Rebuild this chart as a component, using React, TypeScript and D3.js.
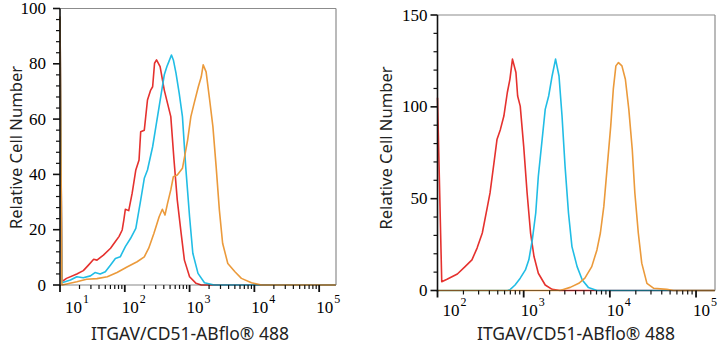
import React from "react";
import * as d3 from "d3";

// intensity, relative cell number
const leftRed: [number, number][] = [
  [10, 97], [10.7, 1.2], [12.6, 2.4], [18.2, 4], [22.9, 5.2], [27.5, 7.2], [33.1, 9.3], [37.2, 9],
  [46.8, 10.8], [60.3, 13.3], [71.6, 15.7], [81.3, 17.5], [91.2, 19.9], [96.6, 23.5], [102, 27.4],
  [115, 26.9], [130, 33.2], [148, 41.6], [166, 45.2], [176, 55.4], [200, 56], [224, 66.9], [251, 70.5],
  [269, 71.7], [288, 80.2], [309, 81.4], [351, 79], [407, 70.5], [457, 65.7], [513, 60.9], [575, 45.2],
  [646, 30.7], [741, 18.7], [832, 9], [1000, 3], [1259, 0.6], [1514, 0], [180000, 0],
];
const leftCyan: [number, number][] = [
  [10, 97], [10.7, 0.8], [14.5, 1.8], [18.2, 3], [22.9, 2.6], [29.5, 3.3], [34.7, 4.5], [41.7, 4],
  [50.1, 4.8], [60.3, 7.2], [71.6, 9.6], [85.1, 10.2], [102, 13.9], [123, 16.9], [148, 20.5],
  [176, 30.7], [200, 38.6], [224, 41.6], [269, 50], [302, 57.3], [339, 64.5], [407, 76], [447, 79],
  [479, 80.8], [525, 83.2], [562, 81.4], [617, 76.6], [692, 69.3], [776, 60.9], [871, 42.8],
  [1000, 24.7], [1122, 11.5], [1349, 4.2], [1698, 0.8], [2399, 0], [180000, 0],
];
const leftOrange: [number, number][] = [
  [10, 97], [10.7, 0], [18.2, 1.2], [25.7, 2.1], [37.2, 2.3], [53.7, 3], [75.9, 4.5], [110, 6.6],
  [155, 8.4], [200, 10.2], [234, 13.3], [282, 18.7], [339, 24.7], [380, 27.4], [417, 25.3],
  [457, 29.5], [513, 34.4], [562, 39.2], [646, 39.8], [776, 42.2], [933, 52.4], [1047, 60.9],
  [1175, 65.7], [1365, 71.7], [1514, 75.3], [1622, 79.6], [1799, 77.1], [2042, 66.9], [2291, 57.3],
  [2570, 42.8], [2884, 27.1], [3236, 15.1], [3890, 7.8], [5012, 4.8], [6310, 2.4], [9016, 0.8],
  [12882, 0], [180000, 0],
];

const rightRed: [number, number][] = [
  [100, 105], [112, 4.8], [129, 6.1], [170, 9], [209, 13], [251, 16.7], [288, 23.1], [331, 31.3],
  [380, 45.8], [407, 53.1], [447, 67.7], [490, 82.2], [537, 87.7], [589, 95], [646, 107.8],
  [692, 115], [741, 126], [813, 118.7], [851, 105.9], [912, 100.4], [1000, 78.6], [1096, 53.1],
  [1202, 31.3], [1318, 18.5], [1479, 9.4], [1778, 3], [2138, 0.6], [2661, 0], [165000, 0],
];
const rightCyan: [number, number][] = [
  [100, 0], [650, 0], [700, 0.6], [794, 3], [912, 6.7], [1047, 11.2], [1148, 16.7], [1259, 27.6],
  [1380, 42.2], [1479, 62.2], [1622, 80.4], [1778, 98.6], [1950, 105.9], [2138, 116.8], [2344, 126],
  [2570, 116.8], [2786, 95], [3020, 67.7], [3311, 42.2], [3631, 23.9], [4169, 13], [4786, 5.7],
  [5623, 1.7], [7079, 0], [165000, 0],
];
const rightOrange: [number, number][] = [
  [100, 0], [2600, 0], [2884, 0.6], [3467, 1.7], [4365, 3.9], [5129, 6.7], [6166, 13], [7079, 22.1],
  [7762, 31.3], [8511, 45.8], [9333, 67.7], [10233, 89.5], [10965, 109.6], [11749, 122.3],
  [12589, 124.1], [13804, 122.3], [15136, 115], [16596, 98.6], [18197, 76.8], [19498, 53.1],
  [21380, 31.3], [23442, 14.9], [26915, 3.9], [32359, 1.2], [45709, 0.6], [54954, 0], [165000, 0],
];

const leftYTicks = [0, 20, 40, 60, 80, 100];
const rightYTicks = [0, 50, 100, 150];
const leftDecades = [1, 2, 3, 4, 5];
const rightDecades = [2, 3, 4, 5];

const xTitle = "ITGAV/CD51-ABflo\u00ae 488";
const yTitle = "Relative Cell Number";
const seriesColors = ["#e5312e", "#21bde5", "#eb9a3b"];

const serif = "Liberation Serif, Times New Roman, DejaVu Serif, serif";
const sans = "Noto Sans, Open Sans, sans-serif";

type PanelProps = {
  series: [number, number][][];
  decades: number[];
  yTicks: number[];
  yMinorStep: number;
  xDomain: [number, number];
  x0: number; x1: number; yBottom: number; yTop: number;
  yLabelGap: number; yTitleX: number; yTitleY: number; titleX: number;
};

function Panel(p: PanelProps) {
  const yMax = p.yTicks[p.yTicks.length - 1];
  const x = d3.scaleLog().domain(p.xDomain).range([p.x0, p.x1]);
  const y = d3.scaleLinear().domain([0, yMax]).range([p.yBottom, p.yTop]);
  const line = d3.line<[number, number]>().x(d => x(d[0])).y(d => y(d[1]));

  const yMinor = d3.range(0, yMax + 0.001, p.yMinorStep).filter(v => !p.yTicks.includes(v));
  const xMinor: number[] = [];
  for (let e = 0; e < 6; e++) {
    for (let m = 2; m <= 9; m++) {
      const v = m * 10 ** e;
      if (v > p.xDomain[0] && v < p.xDomain[1]) xMinor.push(v);
    }
  }
  const labelY = Math.min(p.yBottom + 28, 315.5);

  return (
    <g>
      {/* frame */}
      <line x1={p.x0} x2={p.x1} y1={p.yTop} y2={p.yTop} stroke="#8c8c8c" strokeWidth={1.2} />
      <line x1={p.x1} x2={p.x1} y1={p.yTop} y2={p.yBottom} stroke="#8c8c8c" strokeWidth={1.2} />

      {p.series.map((s, i) => (
        <path key={i} d={line(s) || ""} fill="none" stroke={seriesColors[i]} strokeWidth={1.6} strokeLinejoin="round" />
      ))}

      <line x1={p.x0} x2={p.x0} y1={p.yTop} y2={p.yBottom + 1} stroke="#111" strokeWidth={1.6} />
      <line x1={p.x0} x2={p.x1} y1={p.yBottom} y2={p.yBottom} stroke="#111" strokeWidth={1.2} strokeOpacity={0.5} />

      {/* y axis */}
      {p.yTicks.map(t => (
        <g key={"y" + t}>
          <line x1={p.x0 - 7} x2={p.x0} y1={y(t)} y2={y(t)} stroke="#111" strokeWidth={1.6} />
          <text x={p.x0 - p.yLabelGap} y={y(t)} dy="0.33em" textAnchor="end"
            style={{ fontFamily: serif, fontSize: 17 }} fill="#000">{t}</text>
        </g>
      ))}
      {yMinor.map(t => (
        <line key={"ym" + t} x1={p.x0 - 4} x2={p.x0} y1={y(t)} y2={y(t)} stroke="#111" strokeWidth={1.2} />
      ))}

      {/* x axis */}
      {xMinor.map(v => (
        <line key={"xm" + v} x1={x(v)} x2={x(v)} y1={p.yBottom} y2={p.yBottom + 4} stroke="#111" strokeWidth={1.2} />
      ))}
      {p.decades.map(e => {
        const tx = x(10 ** e);
        return (
          <g key={"x" + e}>
            <line x1={tx} x2={tx} y1={p.yBottom} y2={p.yBottom + 7} stroke="#111" strokeWidth={1.8} />
            <text x={Math.max(tx - 3, p.x0 + 5)} y={labelY}
              style={{ fontFamily: serif, fontSize: 17 }} fill="#000">
              <tspan>10</tspan>
              <tspan dx={1} dy={-10} style={{ fontSize: 12 }}>{e}</tspan>
            </text>
          </g>
        );
      })}

      <text x={p.titleX} y={339.5} textAnchor="middle" style={{ fontFamily: sans, fontSize: 17.5 }} fill="#222">{xTitle}</text>
      <text transform={`translate(${p.yTitleX},${p.yTitleY}) rotate(-90)`} textAnchor="middle"
        style={{ fontFamily: sans, fontSize: 16.6 }} fill="#222">{yTitle}</text>
    </g>
  );
}

export default function App() {
  return (
    <div style={{ position: "absolute", left: 0, top: 0 }}>
      <svg width={727} height={350} style={{ display: "block", background: "#fff" }}>
        <Panel series={[leftRed, leftCyan, leftOrange]} decades={leftDecades} yTicks={leftYTicks} yMinorStep={4}
          xDomain={[10, 10 ** 5.26]} x0={60} x1={336} yBottom={285} yTop={8.5}
          yLabelGap={14} yTitleX={22} yTitleY={147.5} titleX={190} />
        <Panel series={[rightRed, rightCyan, rightOrange]} decades={rightDecades} yTicks={rightYTicks} yMinorStep={10}
          xDomain={[100, 10 ** 5.22]} x0={437.5} x1={715} yBottom={290.5} yTop={15}
          yLabelGap={10} yTitleX={392} yTitleY={148} titleX={576} />
      </svg>
    </div>
  );
}
